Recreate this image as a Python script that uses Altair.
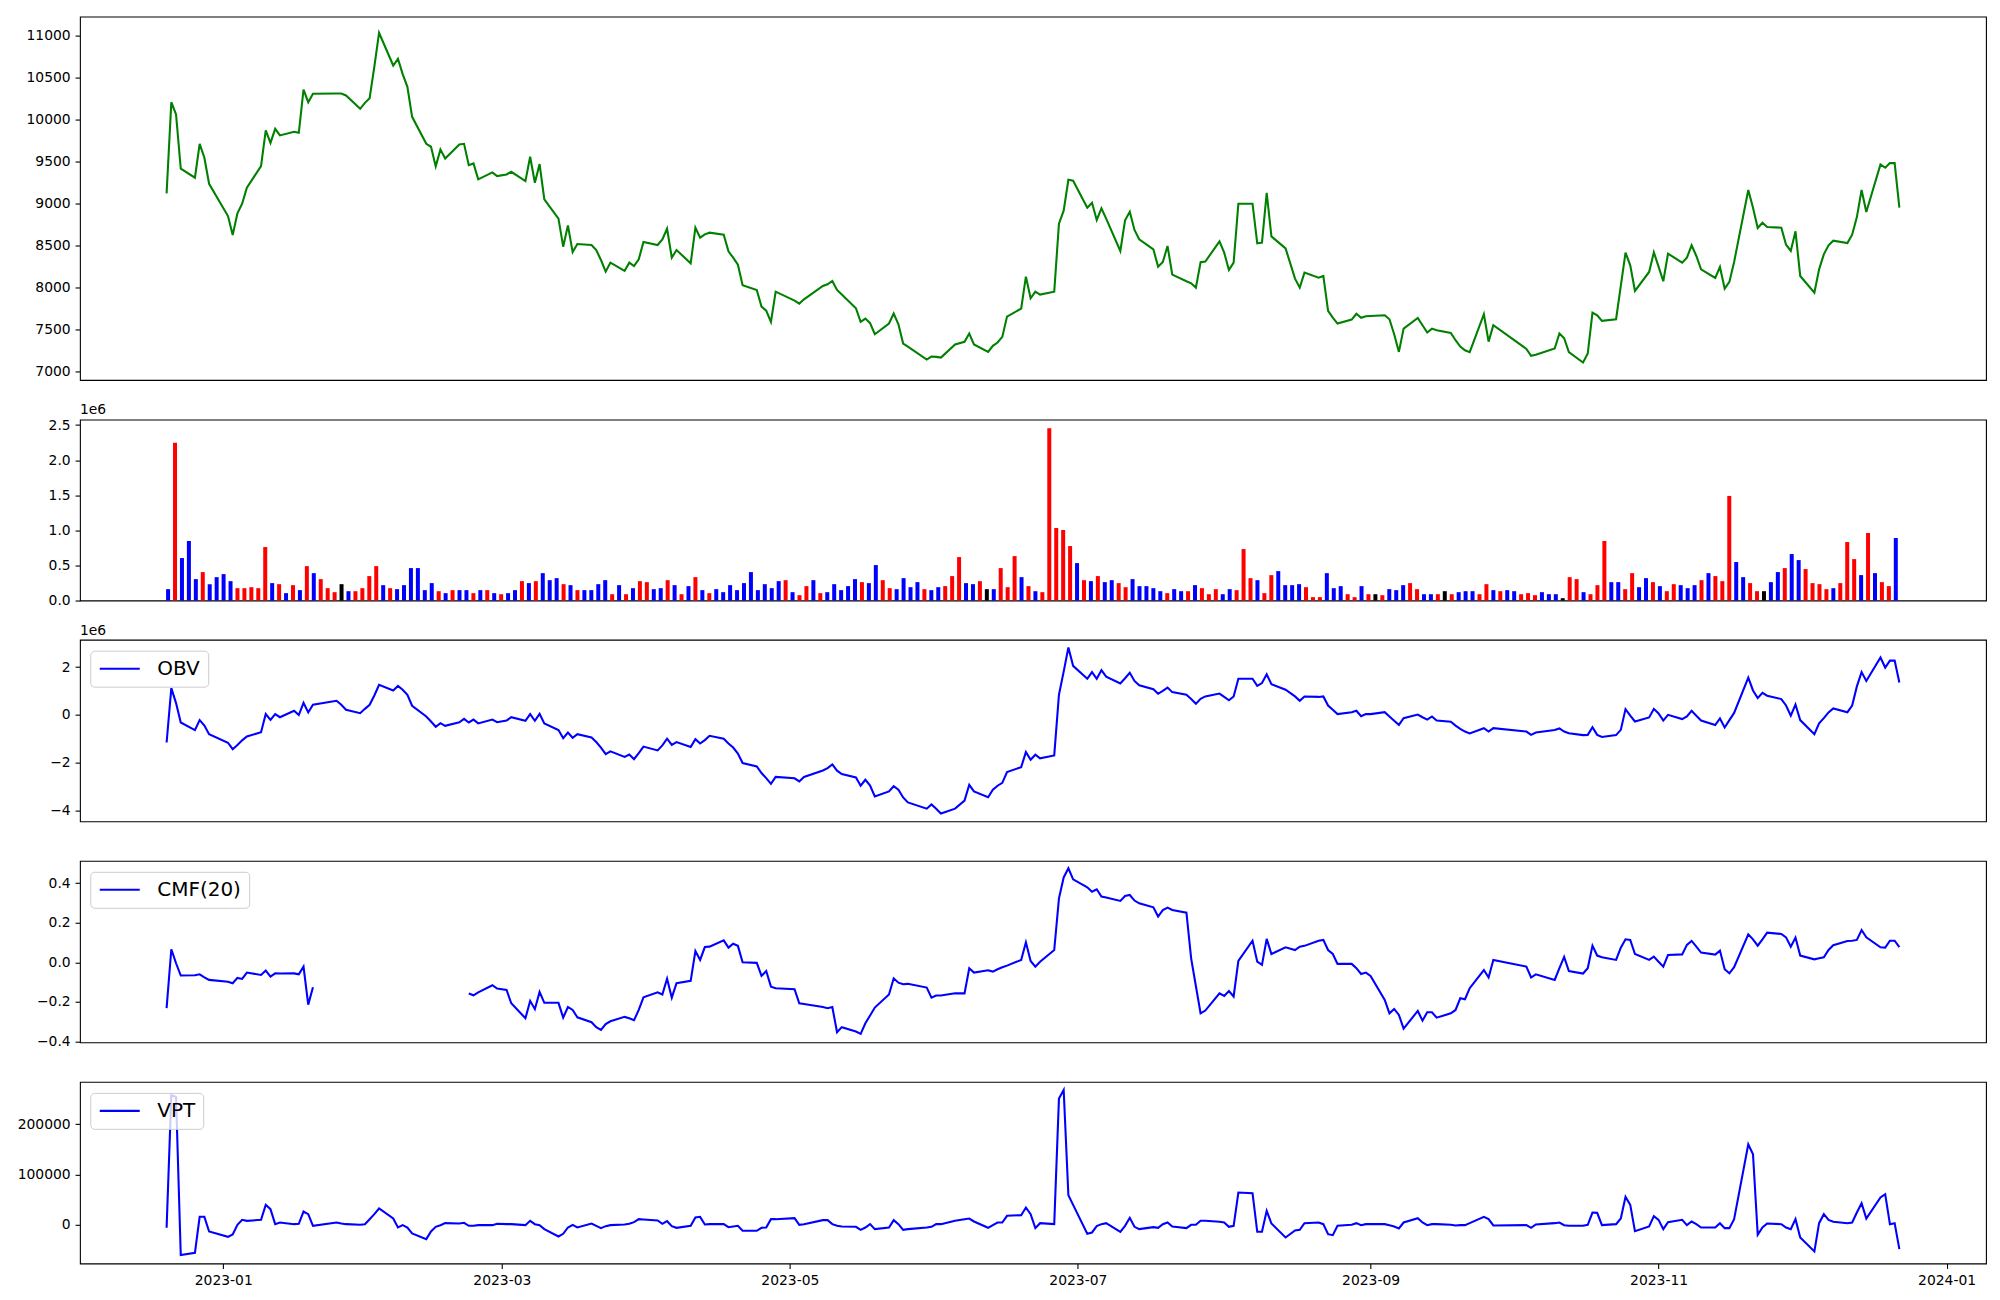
import altair as alt
import pandas as pd

# ---------------- data ----------------
KRX_HOLIDAYS = ["2022-12-30", "2023-01-23", "2023-01-24", "2023-03-01", "2023-05-01",
                "2023-05-05", "2023-05-29", "2023-06-06", "2023-08-15", "2023-09-28",
                "2023-09-29", "2023-10-02", "2023-10-03", "2023-10-09"]

PRICE = [9119, 10206, 10060, 9413, 9306, 9710, 9544, 9234, 8849, 8623,
         8881, 8996, 9187, 9445, 9869, 9722, 9889, 9810, 9853, 9841,
         10357, 10206, 10306, 10310, 10310, 10286, 10127, 10198, 10254, 10630,
         11032, 10643, 10722, 10540, 10389, 10032, 9710, 9675, 9441, 9643,
         9536, 9702, 9710, 9456, 9476, 9286, 9369, 9325, 9345, 9377,
         9266, 9556, 9246, 9468, 9048, 8818, 8484, 8738, 8420, 8516,
         8504, 8444, 8325, 8187, 8294, 8195, 8294, 8254, 8334, 8540,
         8504, 8571, 8698, 8353, 8444, 8286, 8710, 8591, 8631, 8651,
         8627, 8429, 8353, 8270, 8024, 7968, 7770, 7722, 7587, 7948,
         7841, 7806, 7857, 8016, 8036, 8076, 7968, 7915, 7750, 7587,
         7627, 7572, 7441, 7568, 7687, 7560, 7330, 7294, 7139, 7175,
         7171, 7163, 7318, 7350, 7449, 7318, 7230, 7302, 7342, 7409,
         7651, 7746, 8127, 7869, 7948, 7913, 7948, 8758, 8913, 9282,
         9270, 8949, 9008, 8802, 8941, 8818, 8433, 8798, 8901, 8683,
         8572, 8453, 8246, 8302, 8492, 8151, 8072, 8048, 7996, 8298,
         8306, 8548, 8413, 8206, 8294, 8996, 8996, 8524, 8532, 9127,
         8607, 8464, 8103, 7996, 8175, 8115, 8135, 7718, 7639, 7568,
         7615, 7685, 7637, 7655, 7659, 7667, 7619, 7441, 7230, 7508,
         7635, 7548, 7461, 7508, 7488, 7457, 7369, 7294, 7250, 7227,
         7679, 7353, 7548, 7266, 7183, 7195, 7270, 7449, 7393, 7227,
         7104, 7211, 7699, 7667, 7600, 7619, 8016, 8413, 8262, 7957,
         8183, 8417, 8246, 8072, 8401, 8294, 8353, 8500, 8373, 8214,
         8111, 8242, 7984, 8064, 8302, 9159, 8949, 8707, 8770, 8718,
         8711, 8508, 8433, 8667, 8135, 7937, 8214, 8393, 8500, 8556,
         8528, 8627, 8837, 9159, 8897, 9464, 9425, 9480, 9480, 8949]

# volume in millions (axis offset "1e6")
VOLUME_M = [0.162, 2.248, 0.605, 0.848, 0.305, 0.405, 0.233, 0.333, 0.376, 0.276,
            0.176, 0.176, 0.190, 0.176, 0.762, 0.248, 0.233, 0.105, 0.219, 0.148,
            0.490, 0.390, 0.305, 0.176, 0.119, 0.233, 0.133, 0.133, 0.176, 0.348,
            0.490, 0.219, 0.176, 0.162, 0.219, 0.462, 0.462, 0.148, 0.248, 0.133,
            0.105, 0.148, 0.148, 0.148, 0.105, 0.148, 0.148, 0.105, 0.090, 0.105,
            0.148, 0.276, 0.248, 0.276, 0.390, 0.290, 0.319, 0.233, 0.219, 0.148,
            0.148, 0.148, 0.233, 0.290, 0.090, 0.219, 0.090, 0.176, 0.276, 0.262,
            0.162, 0.176, 0.290, 0.219, 0.090, 0.205, 0.333, 0.148, 0.105, 0.162,
            0.119, 0.219, 0.148, 0.248, 0.405, 0.148, 0.233, 0.176, 0.276, 0.290,
            0.119, 0.076, 0.205, 0.290, 0.105, 0.119, 0.233, 0.148, 0.205, 0.305,
            0.262, 0.248, 0.505, 0.290, 0.176, 0.162, 0.319, 0.190, 0.262, 0.162,
            0.148, 0.190, 0.205, 0.348, 0.619, 0.248, 0.233, 0.276, 0.162, 0.162,
            0.462, 0.190, 0.633, 0.333, 0.205, 0.133, 0.119, 2.455, 1.033, 1.005,
            0.776, 0.533, 0.290, 0.276, 0.348, 0.262, 0.290, 0.248, 0.190, 0.305,
            0.205, 0.205, 0.176, 0.133, 0.105, 0.162, 0.133, 0.133, 0.219, 0.176,
            0.090, 0.162, 0.090, 0.162, 0.148, 0.733, 0.319, 0.290, 0.105, 0.362,
            0.419, 0.219, 0.219, 0.233, 0.190, 0.048, 0.048, 0.390, 0.176, 0.205,
            0.090, 0.048, 0.205, 0.090, 0.090, 0.076, 0.162, 0.148, 0.219, 0.248,
            0.162, 0.090, 0.090, 0.090, 0.133, 0.090, 0.119, 0.133, 0.133, 0.090,
            0.233, 0.148, 0.133, 0.148, 0.133, 0.090, 0.105, 0.076, 0.119, 0.090,
            0.090, 0.033, 0.333, 0.305, 0.119, 0.090, 0.219, 0.848, 0.262, 0.262,
            0.162, 0.390, 0.190, 0.319, 0.262, 0.205, 0.133, 0.233, 0.219, 0.176,
            0.219, 0.290, 0.390, 0.348, 0.276, 1.490, 0.548, 0.333, 0.248, 0.133,
            0.133, 0.262, 0.405, 0.462, 0.662, 0.576, 0.448, 0.248, 0.233, 0.162,
            0.176, 0.248, 0.833, 0.590, 0.362, 0.962, 0.390, 0.262, 0.205, 0.890]

# bar colours: R = red, B = blue, K = black
VOL_COLOR = ("BRBBBRBBBB" "RRRRRBRBRB" "RBRRRKBRRR" "RBRBBBBBBR" "BRBBRBRBRB"
             "BRBRBBBRBR" "BBBBRBRBRR" "BBRBRBRBRB" "BBBBBBBBBR" "BRRBRBBBBB"
             "RBBRRBBBBR" "BBRRRBBRKB" "RRRBRBRRRR" "RBRBRBBRRB" "BBBBRBBRBR"
             "RRBBRRRBRR" "BBBBRRRBBB" "RRBRKRBBBR" "RBBRKRBBBR" "RBRBBRRRBB"
             "BKRRBRRRBB" "RRBBRBRRBB" "BRBRRRBBRR" "KBBRBBRRRR" "BRRRBRBRRB")

# OBV in millions (axis offset "1e6")
OBV_M = [-1.16, 1.12, 0.49, -0.32, -0.64, -0.22, -0.45, -0.81, -1.17, -1.44,
         -1.26, -1.07, -0.91, -0.73, 0.03, -0.21, 0.03, -0.10, 0.17, -0.01,
         0.50, 0.10, 0.42, 0.59, 0.42, 0.21, 0.07, 0.25, 0.42, 0.81,
         1.26, 1.02, 1.21, 1.05, 0.84, 0.38, -0.07, -0.28, -0.50, -0.35,
         -0.46, -0.31, -0.17, -0.32, -0.20, -0.36, -0.20, -0.31, -0.24, -0.10,
         -0.25, 0.03, -0.25, 0.04, -0.36, -0.64, -0.98, -0.74, -0.96, -0.81,
         -0.95, -1.14, -1.37, -1.65, -1.53, -1.76, -1.66, -1.86, -1.60, -1.33,
         -1.49, -1.28, -1.00, -1.26, -1.14, -1.35, -1.02, -1.20, -1.06, -0.88,
         -1.00, -1.20, -1.37, -1.62, -2.02, -2.16, -2.44, -2.65, -2.89, -2.60,
         -2.66, -2.79, -2.60, -2.33, -2.23, -2.08, -2.34, -2.48, -2.62, -2.97,
         -2.72, -2.96, -3.42, -3.21, -2.99, -3.14, -3.46, -3.67, -3.93, -3.75,
         -3.93, -4.13, -3.93, -3.59, -2.93, -3.21, -3.45, -3.14, -2.97, -2.85,
         -2.40, -2.19, -1.56, -1.88, -1.67, -1.82, -1.70, 0.84, 1.81, 2.82,
         2.05, 1.51, 1.79, 1.51, 1.87, 1.60, 1.31, 1.53, 1.76, 1.42,
         1.24, 1.07, 0.88, 1.00, 1.14, 0.95, 0.84, 0.66, 0.46, 0.67,
         0.77, 0.89, 0.75, 0.61, 0.77, 1.51, 1.51, 1.21, 1.33, 1.70,
         1.28, 1.05, 0.77, 0.59, 0.77, 0.75, 0.77, 0.39, 0.21, 0.03,
         0.11, 0.17, -0.06, 0.03, 0.03, 0.11, -0.07, -0.25, -0.42, -0.14,
         0.01, -0.10, -0.20, -0.07, -0.24, -0.29, -0.45, -0.59, -0.70, -0.78,
         -0.56, -0.70, -0.56, -0.70, -0.84, -0.74, -0.64, -0.57, -0.70, -0.77,
         -0.85, -0.84, -0.52, -0.84, -0.93, -0.85, -0.63, 0.24, -0.03, -0.28,
         -0.11, 0.25, 0.06, -0.24, 0.00, -0.18, -0.07, 0.17, -0.04, -0.24,
         -0.43, -0.15, -0.53, -0.22, 0.08, 1.56, 1.02, 0.70, 0.92, 0.80,
         0.66, 0.39, -0.04, 0.43, -0.22, -0.81, -0.36, -0.14, 0.10, 0.27,
         0.11, 0.39, 1.19, 1.79, 1.42, 2.40, 1.98, 2.27, 2.27, 1.35]

N_ = None
CMF20 = [-0.232, 0.066, -0.005, -0.067, -0.066, -0.061, -0.076, -0.089, -0.098, -0.106,
         -0.079, -0.084, -0.052, -0.064, -0.042, -0.072, -0.056, -0.057, -0.056, -0.061,
         -0.022, -0.214, -0.126, N_, N_, N_, N_, N_, N_, N_,
         N_, N_, N_, N_, N_, N_, N_, N_, N_, N_,
         N_, N_, N_, -0.158, -0.167, -0.152, -0.116, -0.133, -0.140, -0.207,
         -0.283, -0.195, -0.237, -0.150, -0.205, -0.205, -0.280, -0.226, -0.241, -0.278,
         -0.303, -0.328, -0.342, -0.312, -0.298, -0.276, -0.283, -0.293, -0.241, -0.177,
         -0.152, -0.163, -0.083, -0.179, -0.106, -0.094, 0.057, 0.012, 0.077, 0.079,
         0.111, 0.074, 0.094, 0.083, 0.000, -0.003, -0.069, -0.044, -0.123, -0.131,
         -0.136, -0.207, -0.211, -0.226, -0.232, -0.226, -0.354, -0.328, -0.350, -0.362,
         -0.308, -0.269, -0.229, -0.163, -0.081, -0.103, -0.111, -0.109, -0.128, -0.179,
         -0.168, -0.168, -0.157, -0.157, -0.030, -0.052, -0.040, -0.047, -0.035, -0.025,
         -0.017, 0.012, 0.101, 0.007, -0.022, 0.003, 0.062, 0.323, 0.429, 0.475,
         0.419, 0.379, 0.357, 0.369, 0.332, 0.327, 0.310, 0.335, 0.340, 0.312,
         0.298, 0.278, 0.231, 0.264, 0.276, 0.264, 0.251, 0.020, -0.120, -0.258,
         -0.244, -0.157, -0.170, -0.145, -0.173, 0.007, 0.109, 0.003, -0.013, 0.118,
         0.042, 0.076, 0.062, 0.079, 0.083, 0.109, 0.113, 0.062, 0.042, -0.008,
         -0.008, -0.030, -0.059, -0.052, -0.069, -0.190, -0.258, -0.236, -0.266, -0.335,
         -0.246, -0.295, -0.253, -0.253, -0.280, -0.258, -0.241, -0.182, -0.187, -0.131,
         -0.039, -0.077, 0.012, -0.022, -0.077, -0.061, -0.089, -0.030, 0.027, -0.044,
         -0.057, -0.030, 0.084, 0.034, 0.025, 0.012, 0.074, 0.116, 0.113, 0.042,
         0.012, 0.029, 0.003, -0.022, 0.037, 0.040, 0.088, 0.108, 0.079, 0.049,
         0.039, 0.059, -0.035, -0.056, -0.025, 0.141, 0.116, 0.084, 0.116, 0.150,
         0.143, 0.126, 0.079, 0.125, 0.034, 0.015, 0.020, 0.025, 0.062, 0.086,
         0.108, 0.109, 0.113, 0.163, 0.126, 0.076, 0.074, 0.109, 0.109, 0.077]

VPT = [-5960, 257600, 254300, -60260, -55630, 15890, 15890, -13245, -23840, -19200,
       0, 9930, 7950, 9930, 39735, 31125, 1325, 4636, 1325, 2000,
       26490, 21190, -1987, 4636, 2650, 1325, 0, 1325, 11260, 21190,
       32450, 12580, -5300, -660, -5300, -17220, -28480, -13245, -3970, -660,
       3310, 2650, 3970, -1990, -1990, -660, -660, 1990, 1325, 1325,
       -660, 7950, 1325, -660, -8600, -23180, -17880, -5300, 0, -5300,
       2650, -1990, -6620, -2650, -660, 660, 1990, 5300, 11260, 10600,
       8600, 1990, 7280, -2650, -5960, -1990, 14570, 15890, 660, 1325,
       1325, -4640, -3310, -1990, -11920, -11920, -5960, -5300, 11260, 11260,
       13245, 0, 1325, 9270, 9270, 1325, -1990, -3310, -3970, -9930,
       -5300, 1325, -8600, -5300, 9270, 1325, -9930, -8600, -5300, -3970,
       1325, 1325, 7950, 11260, 12580, 6620, -5960, -660, 4636, 4636,
       17880, 19200, 34440, 21190, -6620, 3310, 1325, 251000, 268200, 58940,
       39700, -17880, -15230, -2650, 1325, 3310, -13900, -1990, 13900, -3970,
       -8600, -4640, -5960, 1325, 4636, -3310, -6620, 0, 0, 7950,
       7950, 5960, 4636, -3970, -1990, 64240, 62910, -13900, -13900, 27815,
       2650, -25165, -11260, -9930, 3310, 4636, 1325, -18545, -20530, -1990,
       0, 3310, -660, 1325, 1325, 1325, -660, -3310, -7280, 4636,
       13245, 4636, -660, 1325, 1325, 0, -1325, -660, -660, 3310,
       15890, 11260, -1325, -660, -5960, 660, 3310, 4636, -660, -1990,
       -1990, 0, 24500, 23840, -660, 1325, 12580, 55630, 39735, -12580,
       -3310, 17220, 9930, -8600, 5300, 9930, -660, 6620, 1325, -5300,
       -5300, 3310, -6620, -6620, 11260, 160265, 140400, -19870, -5300, 2650,
       1325, -5300, -8600, 11260, -25165, -52980, 3310, 21190, 9930, 5960,
       3310, 4636, 24500, 43050, 12580, 54310, 60930, 1325, 3310, -48340]

PRICE_TICKS = [7000, 7500, 8000, 8500, 9000, 9500, 10000, 10500, 11000]
VOL_TICKS = [0.0, 0.5, 1.0, 1.5, 2.0, 2.5]
OBV_TICKS = [-4, -2, 0, 2]
CMF_TICKS = [-0.4, -0.2, 0.0, 0.2, 0.4]
VPT_TICKS = [0, 100000, 200000]

# ---------------- table ----------------
days = [d for d in pd.bdate_range("2022-12-20", "2023-12-22")
        if d.strftime("%Y-%m-%d") not in KRX_HOLIDAYS]
df = pd.DataFrame({
    "date": days,
    "idx": list(range(len(days))),
    "price": PRICE,
    "vol": VOLUME_M,
    "vc": list(VOL_COLOR),
    "obv": OBV_M,
    "cmf": CMF20,
    "vpt": VPT,
})
df["seg"] = [0 if i < 23 else 1 for i in df["idx"]]
df["date"] = df["date"].dt.strftime("%Y-%m-%dT00:00:00")

W = 1907
FONT = "DejaVu Sans"
FS = 13.9
MINUS = "\u2212"

xdom = [alt.DateTime(year=2022, month=12, date=1, hours=15, minutes=36),
        alt.DateTime(year=2024, month=1, date=9, hours=8, minutes=24)]
x_hidden = alt.X("date:T", scale=alt.Scale(domain=xdom), axis=None)


def legend_for():
    return alt.Legend(title=None, orient="none", legendX=10.3, legendY=11,
                      symbolType="stroke", symbolStrokeWidth=2.1, symbolSize=1600,
                      clipHeight=20,
                      labelFont=FONT, labelFontSize=20, labelColor="black",
                      labelOffset=16, padding=8, strokeColor="#cccccc",
                      fillColor="rgba(255,255,255,0.8)", cornerRadius=4)


# panel 1: price
p1 = alt.Chart(df).mark_line(color="green", strokeWidth=2.08).encode(
    x=x_hidden,
    y=alt.Y("price:Q", title=None,
            scale=alt.Scale(domain=[6896, 11226], nice=False, zero=False),
            axis=alt.Axis(values=PRICE_TICKS, format="d")),
).properties(width=W, height=363.5)

# panel 2: volume bars (evenly spaced by trading-day index)
bars = alt.Chart(df).mark_bar(size=4, orient="vertical").encode(
    x=alt.X("idx:Q", scale=alt.Scale(domain=[-12.7, 262.0], nice=False, zero=False, padding=0),
            axis=None),
    y=alt.Y("vol:Q", title=None, scale=alt.Scale(domain=[0, 2.577], nice=False, padding=0),
            axis=alt.Axis(values=VOL_TICKS, format=".1f")),
    color=alt.Color("vc:N", scale=alt.Scale(domain=["R", "B", "K"], range=["red", "blue", "black"]),
                    legend=None),
)
offset_txt = pd.DataFrame({"t": ["1e6"]})
off2 = alt.Chart(offset_txt).mark_text(align="left", baseline="alphabetic", font=FONT,
                                       fontSize=FS, color="black").encode(
    x=alt.value(0), y=alt.value(-5.5), text="t:N")
p2 = alt.layer(bars, off2).properties(width=W, height=181)

# panel 3: OBV
obv_line = alt.Chart(df).transform_calculate(series="'OBV'").mark_line(strokeWidth=2.08).encode(
    x=x_hidden,
    y=alt.Y("obv:Q", title=None, scale=alt.Scale(domain=[-4.46, 3.146], nice=False, zero=False),
            axis=alt.Axis(values=OBV_TICKS,
                          labelExpr="replace(format(datum.value, 'd'), '-', '" + MINUS + "')")),
    color=alt.Color("series:N", scale=alt.Scale(domain=["OBV"], range=["blue"]), legend=legend_for()),
)
off3 = alt.Chart(offset_txt).mark_text(align="left", baseline="alphabetic", font=FONT,
                                       fontSize=FS, color="black").encode(
    x=alt.value(0), y=alt.value(-5.2), text="t:N")
p3 = alt.layer(obv_line, off3).properties(width=W, height=181.7)

# panel 4: CMF(20)
p4 = alt.Chart(df).transform_filter("isValid(datum.cmf)").transform_calculate(
    series="'CMF(20)'").mark_line(strokeWidth=2.08).encode(
    x=x_hidden,
    y=alt.Y("cmf:Q", title=None, scale=alt.Scale(domain=[-0.405, 0.513], nice=False, zero=False),
            axis=alt.Axis(values=CMF_TICKS,
                          labelExpr="replace(format(datum.value, '.1f'), '-', '" + MINUS + "')")),
    color=alt.Color("series:N", scale=alt.Scale(domain=["CMF(20)"], range=["blue"]), legend=legend_for()),
    detail="seg:N",
).properties(width=W, height=181.7)

# panel 5: VPT (with the date axis)
xticks = [alt.DateTime(year=y, month=m, date=1) for (y, m) in
          [(2023, 1), (2023, 3), (2023, 5), (2023, 7), (2023, 9), (2023, 11), (2024, 1)]]
p5 = alt.Chart(df).transform_calculate(series="'VPT'").mark_line(strokeWidth=2.08).encode(
    x=alt.X("date:T", title=None, scale=alt.Scale(domain=xdom),
            axis=alt.Axis(values=xticks, format="%Y-%m", labelAngle=0, labelFlush=False)),
    y=alt.Y("vpt:Q", title=None, scale=alt.Scale(domain=[-76900, 284300], nice=False, zero=False),
            axis=alt.Axis(values=VPT_TICKS, format="d")),
    color=alt.Color("series:N", scale=alt.Scale(domain=["VPT"], range=["blue"]), legend=legend_for()),
).properties(width=W, height=181.7)

chart = alt.vconcat(p1, p2, p3, p4, p5, spacing=39.2, bounds="flush").resolve_scale(
    x="independent", y="independent", color="independent"
).resolve_legend(color="independent").properties(
    padding={"left": 8, "top": 7.3, "right": 5, "bottom": 5},
    background="white",
).configure_view(stroke="black", strokeWidth=1.1).configure_axis(
    labelFont=FONT, labelFontSize=FS, labelColor="black", tickColor="black",
    tickSize=4.9, tickWidth=1.1, labelPadding=4.9, domain=False, grid=False,
)

chart.save("out.html", embed_options={"renderer": "svg", "actions": False})
